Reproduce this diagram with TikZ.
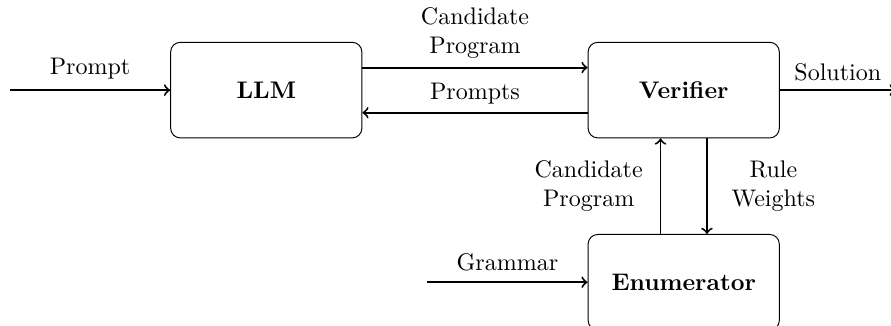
\documentclass[tikz,border=0pt]{standalone}
\usepackage{tikz}
\usetikzlibrary{arrows,positioning}

\begin{document}
\begin{tikzpicture}[
    node distance=3.3cm,
    block/.style={rectangle, draw, rounded corners, minimum width=2.8cm, minimum height=1.4cm, font=\bfseries},
    arrow/.style={->, thick}
]
\useasboundingbox (0,0) rectangle (13.05,-4.77);

% Blocks
\node[block] (llm) at (3.9,-1.32) {LLM};
\node[block, right=3.3cm of llm] (verifier) {Verifier};
\node[block, below=1.4cm of verifier] (enumerator) {Enumerator};

% Free ends of the outer arrows
\coordinate[left=2.35cm of llm] (prompt);
\coordinate[left=2.35cm of enumerator] (grammar);
\coordinate[right=1.7cm of verifier] (solution);

% Inputs and output
\draw[arrow] (prompt) -- (llm) node[midway, above, yshift=1pt] {Prompt};
\draw[arrow] (verifier) -- (solution) node[midway, above] {Solution};
\draw[arrow] (grammar) -- (enumerator) node[midway, above, yshift=1pt] {Grammar};

% LLM and verifier
\draw[arrow] ([yshift=0.33cm]llm.east) -- ([yshift=0.33cm]verifier.west) node[midway, above, align=center] {Candidate\\Program};
\draw[arrow] ([yshift=-0.33cm]verifier.west) -- ([yshift=-0.33cm]llm.east) node[midway, above] {Prompts};

% Verifier and enumerator
\draw[arrow] ([xshift=-0.34cm]enumerator.north) -- ([xshift=-0.34cm]verifier.south) node[midway, left, align=center, xshift=-0.13cm] {Candidate\\Program};
\draw[arrow] ([xshift=0.34cm]verifier.south) -- ([xshift=0.34cm]enumerator.north) node[midway, right, align=center, xshift=0.23cm] {Rule\\Weights};

\end{tikzpicture}
\end{document}
